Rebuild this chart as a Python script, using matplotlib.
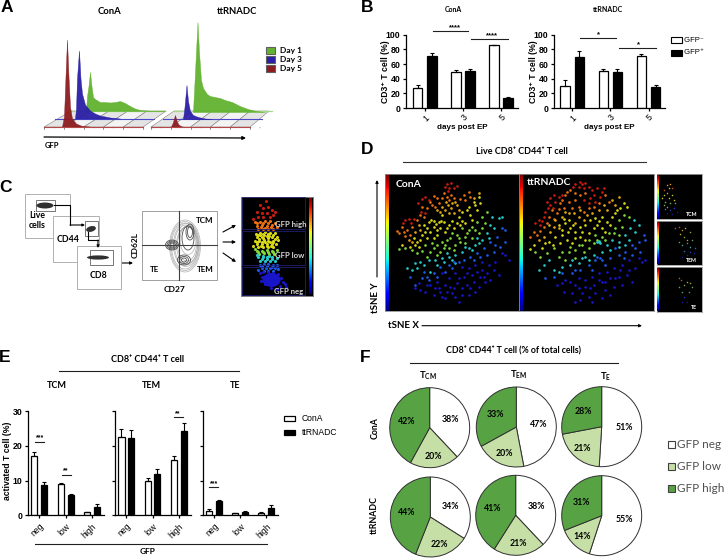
from __future__ import annotations

import matplotlib
matplotlib.use("Agg")
import matplotlib.pyplot as plt
import numpy as np
from matplotlib.patches import Ellipse, Polygon, Rectangle

W, H = 724, 559
SANS = ["Liberation Sans", "DejaVu Sans"]
CAL = ["Lato", "DejaVu Sans"]

plt.rcParams["font.family"] = SANS
plt.rcParams["mathtext.fontset"] = "custom"
plt.rcParams["mathtext.bf"] = "Lato:bold"
plt.rcParams["mathtext.rm"] = "Lato"
plt.rcParams["mathtext.default"] = "regular"

# --- panel A histograms: GFP position, counts (height)
cona_d1_gfp = [86, 87, 88.5, 90, 91.5, 93, 95, 100, 105, 110, 115, 120, 125, 130, 135, 140, 150, 165]
cona_d1_cnt = [0, 15, 25, 39, 25, 14, 12, 9, 9, 8.5, 9, 10, 8, 5, 2.5, 1, 0.3, 0]
cona_d3_gfp = [75, 76, 77, 79, 80.5, 82, 85, 90, 95, 100, 110, 120]
cona_d3_cnt = [0, 10, 40, 68, 40, 25, 14, 8, 5, 3, 1, 0]
cona_d5_gfp = [62, 64, 65.5, 67, 68.5, 70, 72, 76, 82, 90]
cona_d5_cnt = [0, 10, 50, 87, 50, 20, 8, 3, 0.5, 0]
tt_d1_gfp = [193, 194.5, 196, 197.5, 199, 201, 203, 207, 210, 215, 220, 225, 232, 240, 248, 256, 265]
tt_d1_cnt = [0, 30, 60, 90, 60, 32, 24, 18, 16, 15, 14, 12, 10, 6, 3, 1, 0]
tt_d3_gfp = [183, 184.5, 186.5, 188, 190, 193, 198, 205, 212]
tt_d3_cnt = [0, 12, 34, 18, 8, 4, 2, 0.5, 0]
tt_d5_gfp = [171, 173, 175, 177, 179, 182, 186]
tt_d5_cnt = [0, 5, 12, 5, 2, 0.5, 0]

# --- panel B
days = ["1", "3", "5"]
b_cona_neg = [28, 49, 85.5]
b_cona_pos = [71, 50.5, 14]
b_cona_neg_err = [4, 2.5, 1]
b_cona_pos_err = [4, 2.5, 1]
b_tt_neg = [30, 50.5, 71]
b_tt_pos = [70, 49.5, 28.5]
b_tt_neg_err = [8, 3.5, 3]
b_tt_pos_err = [8, 4, 3]

# --- panel E
gfp_levels = ["neg", "low", "high"]
tcm_cona = [17.2, 9, 0.8]
tcm_tt = [8.6, 5.7, 2.3]
tcm_cona_err = [1, 0.4, 0.2]
tcm_tt_err = [1.1, 0.4, 0.8]
tem_cona = [22.5, 9.8, 15.8]
tem_tt = [22.2, 12, 24.2]
tem_cona_err = [2.5, 1, 1.3]
tem_tt_err = [2.3, 1.4, 2.3]
te_cona = [1.3, 0.5, 0.6]
te_tt = [4.1, 0.9, 2.2]
te_cona_err = [0.4, 0.15, 0.2]
te_tt_err = [0.4, 0.3, 0.8]

# --- panel F: neg, low, high
pie_cona_tcm = [38, 20, 42]
pie_cona_tem = [47, 20, 33]
pie_cona_te = [51, 21, 28]
pie_tt_tcm = [34, 22, 44]
pie_tt_tem = [38, 21, 41]
pie_tt_te = [55, 14, 31]

# --- panel D dots
RED, ORANGE, AMBER, YELLOW, LIME, CYAN, BLUE, NAVY = (
    "#c81c10", "#e87010", "#e0a810", "#d8d818", "#80d838", "#28c8c8", "#1c58e8", "#1814c8")

cona_red = [(255,118),(268,115),(285,122),(262,130),(250,125),(275,130),(190,155),(180,162),(130,225),(140,222),(148,235),(155,222),(178,200),(190,205),(258,138),(200,165),(168,175),(122,235)]
cona_orange = [(268,150),(262,165),(215,152),(225,160),(205,170),(210,180),(245,145),(230,175),(240,160),(180,185),(175,210),(185,215),(120,245),(125,262),(135,255),(145,270),(110,265),(150,245),(320,140),(325,155),(305,150),(295,162),(255,155),(275,160),(195,190),(165,225),(130,272),(105,258),(220,185),(310,165)]
cona_amber = [(258,180),(268,190),(250,195),(262,205),(240,185),(275,205),(285,180),(225,195),(280,170),(170,240),(160,262),(175,255),(252,172),(270,175),(290,195),(235,200),(150,290),(140,285),(350,145),(335,160)]
cona_yellow = [(200,230),(215,228),(230,232),(245,230),(185,240),(195,250),(215,245),(205,262),(235,250),(248,262),(225,270),(240,210),(290,215),(300,200),(320,185),(335,170),(350,155),(355,175),(345,195),(325,210),(310,235),(285,235),(165,290),(175,285),(155,280),(120,300),(180,270),(170,305),(262,240),(275,250),(300,228),(208,225),(222,238),(238,228),(190,260),(225,255),(255,250),(270,228),(315,195),(340,180),(330,225),(160,300),(145,305),(195,280),(215,280),(295,240)]
cona_lime = [(110,312),(130,310),(150,315),(165,325),(190,300),(210,295),(225,300),(240,290),(255,285),(270,265),(285,270),(300,250),(315,265),(330,245),(345,230),(360,215),(375,200),(370,235),(350,265),(330,280),(310,295),(295,290),(280,300),(260,310),(235,320),(205,320),(215,310),(250,300),(265,280),(290,280),(320,255),(340,255),(275,315),(245,310),(225,330),(180,318),(360,250),(310,275),(195,335)]
cona_cyan = [(390,215),(410,220),(395,250),(375,265),(360,285),(340,300),(320,310),(300,320),(280,330),(260,335),(240,340),(220,345),(200,345),(175,350),(160,355),(150,375),(135,370),(420,215),(205,380),(280,355),(255,325),(345,280),(385,240),(225,360),(350,295),(330,315),(310,305),(270,345),(245,352),(185,360),(165,368),(380,280)]
cona_blue = [(405,275),(385,290),(365,310),(345,325),(325,335),(305,345),(420,250),(430,255),(290,350),(270,370),(250,380),(215,385),(195,395),(180,400),(160,420),(145,395),(235,365),(395,320),(375,330),(430,290),(415,305),(200,405),(275,350),(355,335),(335,345),(400,300),(260,360),(225,395),(185,380)]
cona_navy = [(440,345),(420,325),(400,350),(380,360),(360,350),(340,360),(320,370),(300,365),(280,385),(260,400),(240,385),(225,410),(205,420),(190,440),(175,435),(160,430),(215,450),(235,440),(250,460),(270,445),(290,470),(300,430),(315,420),(335,410),(355,395),(375,385),(395,375),(410,390),(340,440),(320,450),(285,415),(265,425),(350,425),(370,410),(385,405),(305,395),(330,390),(230,430),(250,420),(280,455),(240,455),(360,375),(430,330),(300,450),(315,385),(345,380),(290,400),(255,440),(220,430),(195,420),(170,415),(325,430),(365,395),(275,430)]

tt_red = [(640,118),(655,110),(670,115),(680,125),(650,125),(665,130),(575,150),(565,160),(555,172),(565,180),(580,170),(590,155),(520,235),(530,225),(545,215),(535,240),(550,200),(600,150),(690,135),(705,130),(720,140),(715,155),(700,170),(680,175),(665,165),(632,125),(660,118),(558,188),(572,190),(540,228),(695,150),(725,128),(685,160)]
tt_orange = [(625,135),(610,150),(595,175),(605,190),(570,195),(585,205),(560,215),(545,245),(515,262),(525,270),(535,258),(555,235),(620,170),(640,165),(655,150),(680,190),(665,200),(695,185),(730,150),(740,170),(650,185),(630,190),(600,165),(615,140),(590,192),(575,222),(505,275),(640,145),(670,145),(710,175)]
tt_amber = [(620,205),(635,205),(650,215),(665,225),(580,225),(600,215),(690,205),(710,195),(725,180),(750,165),(770,155),(565,260),(575,245),(545,275),(530,285),(640,235),(610,200),(655,195),(675,210),(590,250),(560,240),(735,195),(760,180)]
tt_yellow = [(590,240),(610,235),(625,250),(640,262),(655,245),(670,240),(685,225),(700,220),(720,215),(735,230),(750,215),(765,195),(785,175),(795,185),(560,290),(580,275),(600,270),(615,285),(630,295),(680,265),(705,240),(720,250),(745,240),(515,300),(505,312),(540,310),(655,275),(595,295),(605,222),(620,225),(632,240),(600,255),(618,262),(660,260),(695,250),(712,228),(760,205),(775,190),(548,295),(572,300),(640,280),(670,285),(730,260)]
tt_lime = [(770,225),(785,210),(760,250),(740,265),(720,275),(700,270),(680,285),(660,300),(640,315),(620,320),(600,320),(575,310),(555,325),(535,335),(695,295),(665,320),(770,270),(800,215),(640,340),(680,310),(610,345),(650,300),(625,305),(590,335),(705,285),(730,285),(755,265),(780,245),(520,320)]
tt_cyan = [(815,225),(830,240),(805,250),(790,270),(770,290),(750,285),(735,300),(710,290),(720,320),(695,330),(670,335),(650,355),(625,360),(600,365),(575,375),(545,360),(530,375),(560,345),(790,300),(820,260),(745,315),(710,288),(705,292),(715,295),(680,345),(660,340),(770,305),(800,285),(590,380),(630,345)]
tt_blue = [(845,270),(850,285),(830,290),(810,300),(790,320),(770,330),(745,340),(720,345),(700,345),(680,360),(655,375),(630,385),(600,385),(575,395),(550,400),(810,330),(835,320),(730,360),(760,310),(715,340),(705,335),(690,375),(640,375),(785,340),(820,310)]
tt_navy = [(840,350),(820,370),(800,345),(780,360),(755,370),(735,380),(710,385),(690,395),(670,405),(650,400),(625,410),(600,415),(585,420),(605,440),(630,445),(650,430),(670,425),(695,420),(720,410),(745,400),(770,395),(795,390),(810,410),(780,420),(755,425),(730,435),(700,445),(680,455),(655,465),(720,460),(745,450),(640,470),(850,345),(830,340),(690,470),(610,405),(775,375),(800,375),(710,405),(685,430),(660,445),(640,420),(730,410),(760,400)]

# small tSNE panels
tcm_dots = [("#e8a020", (915,120)), ("#e8a020", (925,118)), ("#d05020", (930,130)), ("#d05020", (905,135)), ("#e8c020", (920,130)),
            ("#c8c820", (905,150)), ("#c8c820", (915,145)), ("#c8c820", (930,150)), ("#c8c820", (900,160)), ("#c8c820", (920,160)), ("#c8c820", (935,165)),
            ("#70c050", (910,170)), ("#70c050", (905,180)), ("#70c050", (925,175)), ("#50b090", (915,185)), ("#50b090", (940,175)), ("#3080c0", (910,192)), ("#2040c0", (925,195)),
            ("#2040c0", (935,190)), ("#1818a0", (915,205)), ("#1818a0", (930,208)), ("#1818a0", (945,200))]
tem_dots = [("#c06020", (940,250)), ("#c06020", (950,245)), ("#d09020", (960,255)), ("#c8b020", (970,250)), ("#c8b020", (955,268)), ("#90a830", (965,275)), ("#90a830", (985,262)),
            ("#90a830", (975,285)), ("#60a860", (950,290)), ("#60a860", (990,285)), ("#40a0a0", (960,300)), ("#40a0a0", (985,305)), ("#40a0a0", (975,295)), ("#2070c0", (1000,310)),
            ("#2070c0", (965,318)), ("#2040c0", (985,320)), ("#1818a0", (975,330)), ("#1818a0", (995,325)), ("#1818a0", (960,335))]
te_dots = [("#c06020", (950,398)), ("#c06020", (958,405)), ("#d0a020", (975,410)), ("#90a830", (985,415)), ("#90a830", (965,420)), ("#60a860", (990,425)), ("#60a860", (950,425)),
           ("#40a0a0", (960,440)), ("#40a0a0", (980,440)), ("#2040c0", (965,455)), ("#1818a0", (975,470)), ("#1818a0", (960,470))]

# --- panel C GFP dot plot
gate_red = [(798,122),(780,135),(790,145),(805,140),(815,150),(770,155),(785,160),(800,158),(825,155),(775,170),(790,172),(810,170),(760,178),(820,165)]
gate_orange = [(765,185),(780,185),(795,183),(810,182),(825,188),(770,197),(785,195),(800,197),(815,195),(830,200),(775,207),(790,206),(805,208),(820,207),(772,190),(788,190),(803,190),(795,203),(782,202),(812,202)]
gate_yellow = [(768,222),(780,218),(795,217),(810,218),(825,220),(772,232),(785,230),(800,228),(815,232),(830,232),(765,242),(778,242),(792,240),(805,242),(820,242),(835,240),
               (770,252),(785,252),(800,252),(815,252),(828,252),(758,258),(790,262),(805,262),(775,262),(820,262),(780,225),(790,235),(805,235),(795,247),(810,247),(773,225),(788,223),(803,223),(818,226),(778,236),(793,225),(808,228),(825,237),(772,247),(786,246),(818,247),(800,257),(782,257),(813,257)]
gate_lime = [(770,272),(785,272),(800,270),(815,272),(830,270),(778,282),(792,280),(808,282),(822,282),(765,268),(775,277),(790,276),(805,276),(820,277)]
gate_cyan = [(775,292),(788,292),(802,290),(815,292),(830,295),(780,302),(795,302),(810,302),(825,302),(772,285),(785,297),(800,296),(815,298),(790,287),(806,287)]
gate_blue = [(780,315),(792,312),(805,312),(818,314),(830,315),(785,325),(798,325),(810,325),(825,325),(775,330),(835,328),(787,318),(800,318),(815,320),(792,332),(805,332),(820,332)]
gate_navy = [(780,340),(790,335),(805,335),(820,338),(835,342),(785,350),(845,355),(850,365),(795,372),(840,378),(855,372),(812,385),(830,388),(782,362),(860,380)]

# contour rings in the CD62L/CD27 plot: centre x, centre y, width, height
ring_cx = [185, 185, 185, 186, 186, 187, 187, 188, 188, 172, 172, 172, 172, 190, 190, 184, 184, 184]
ring_cy = [246, 246, 246, 245, 245, 245, 244, 240, 238, 245, 245, 245, 245, 232, 232, 260, 260, 260]
ring_w = [31, 29, 27, 25, 23, 21, 19, 16, 12, 13, 10, 7, 4, 8, 5, 13, 9, 5]
ring_h = [52, 49, 46, 43, 40, 37, 34, 29, 24, 10, 8, 6, 4, 16, 11, 10, 7, 4]


def px_axes(fig, x0, y0, x1, y1, **kw):
    return fig.add_axes([x0 / W, 1 - y1 / H, (x1 - x0) / W, (y1 - y0) / H], **kw)


def label(ax, x, y, s, size=6.5, family=CAL, weight="bold", ha="center", color="black", rotation=0, zorder=7):
    ax.text(x, y, s, fontsize=size, family=family, weight=weight, ha=ha, va="center", color=color, rotation=rotation, zorder=zorder)


def arrow(ax, x0, y0, x1, y1, lw=0.8, ms=5):
    ax.annotate("", xy=(x1, y1), xytext=(x0, y0),
                arrowprops=dict(arrowstyle="-|>", lw=lw, color="black", mutation_scale=ms, shrinkA=0, shrinkB=0))


def draw_hist(ax, gfp, cnt, base, color):
    y = base - np.asarray(cnt, dtype=float)
    ax.fill_between(gfp, y, base, color=color, lw=0.3, alpha=0.95, zorder=3)


def draw_floor(ax, x_bot, x_top, base_bot, base_top):
    # tilted grid under the histograms
    bw, tw = 99, 95
    for i in range(5):
        a, b = i / 5, (i + 1) / 5
        pts = [(x_bot + a * bw, base_bot), (x_bot + b * bw, base_bot), (x_top + b * tw, base_top), (x_top + a * tw, base_top)]
        ax.add_patch(Polygon(pts, closed=True, fc="#e4e4e4" if i % 2 == 0 else "#f4f4f4", ec="#808080", lw=0.4, zorder=1))
    for i in range(6):
        x = x_bot + i * bw / 5
        ax.plot([x, x], [base_bot, base_bot + 2], color="#303030", lw=0.4, zorder=4)
        ax.plot([x + bw / 10, x + bw / 10], [base_bot, base_bot + 1.2], color="#303030", lw=0.3, zorder=4)


def bar_pair(ax, neg, pos, neg_err, pos_err, off, width):
    x = np.arange(len(neg))
    for dx, vals, errs, col in ((-off, neg, neg_err, "white"), (off, pos, pos_err, "black")):
        ax.bar(x + dx, vals, width, color=col, edgecolor="black", lw=0.9, zorder=2,
               yerr=[np.zeros(len(errs)), errs], error_kw=dict(ecolor="black", elinewidth=0.8, capsize=1.6, capthick=0.8))
    for s in ("top", "right"):
        ax.spines[s].set_visible(False)
    for s in ("left", "bottom"):
        ax.spines[s].set_linewidth(0.9)
    ax.set_xticks(x)


def draw_pie(ax, vals):
    wedges, _ = ax.pie(vals, colors=["white", PIE_LOW, PIE_HIGH], startangle=90, counterclock=False, radius=1.0,
                       wedgeprops=dict(edgecolor="#303030", lw=0.7))
    for w, v, d in zip(wedges, vals, (0.57, 0.72, 0.6)):
        ang = np.deg2rad((w.theta1 + w.theta2) / 2)
        ax.text(d * np.cos(ang), d * np.sin(ang), f"{v}%", fontsize=6.3, family=CAL, weight="bold", ha="center", va="center")
    ax.set_xlim(-1.03, 1.03)
    ax.set_ylim(-1.03, 1.03)


def draw_dots(ax, groups, s):
    for col, pts in groups:
        xs, ys = zip(*pts)
        ax.scatter(xs, ys, s=s, c=col, linewidths=0, zorder=3)


def color_strip(ax):
    grad = np.linspace(1, 0, 128).reshape(-1, 1)
    ax.imshow(grad, cmap="jet", aspect="auto")
    ax.axis("off")


PIE_LOW = "#c6dfa6"
PIE_HIGH = "#57a344"

fig = plt.figure(figsize=(W / 100, H / 100), dpi=100, facecolor="white")
ov = px_axes(fig, 0, 0, W, H)
ov.set_xlim(0, W)
ov.set_ylim(H, 0)
ov.axis("off")
ov.set_zorder(10)

# panel letters
for s, x, y in (("A", 7, 8), ("B", 367, 8), ("C", 6, 187), ("D", 367, 150), ("E", 5, 358), ("F", 365, 357)):
    label(ov, x, y, s, size=12.5, family=SANS)

# ---------- A
label(ov, 109, 12, "ConA", size=6.8)
label(ov, 237, 12, "ttRNADC", size=6.8)
draw_floor(ov, 44, 71, 127, 111)
draw_floor(ov, 151, 174, 127, 111)
for x0, x1 in ((70, 165), (174, 272)):
    ov.plot([x0, x1], [111, 111], color="#a8d88a", lw=0.9, zorder=2)
for x0, x1 in ((55, 154), (163, 262)):
    ov.plot([x0, x1], [118.5, 118.5], color="#4a48c8", lw=0.8, zorder=2)
for x0, x1 in ((44, 143), (151, 250)):
    ov.plot([x0, x1], [126.8, 126.8], color="#b84848", lw=0.8, zorder=4)
draw_hist(ov, cona_d1_gfp, cona_d1_cnt, 111, "#62b22f")
draw_hist(ov, cona_d3_gfp, cona_d3_cnt, 118.5, "#2a1fa6")
draw_hist(ov, cona_d5_gfp, cona_d5_cnt, 126.5, "#8c1c1f")
draw_hist(ov, tt_d1_gfp, tt_d1_cnt, 112, "#62b22f")
draw_hist(ov, tt_d3_gfp, tt_d3_cnt, 119, "#2a1fa6")
draw_hist(ov, tt_d5_gfp, tt_d5_cnt, 127, "#8c1c1f")
arrow(ov, 44, 137, 246, 138, lw=0.9)
label(ov, 52, 146, "GFP", size=5.5)
for y, col, s in ((50, "#62b22f", "Day 1"), (59.5, "#2a1fa6", "Day 3"), (68.5, "#8c1c1f", "Day 5")):
    ov.add_patch(Rectangle((265.5, y - 3.5), 9, 7, fc=col, ec="#606060", lw=0.8))
    label(ov, 280, y, s, size=6, ha="left")

# ---------- B
ax = px_axes(fig, 406, 34.7, 518, 108.2)
bar_pair(ax, b_cona_neg, b_cona_pos, b_cona_neg_err, b_cona_pos_err, 0.186, 0.25)
ax.set_xlim(-0.49, 2.445)
ax2 = px_axes(fig, 554, 34.7, 665, 108.2)
bar_pair(ax2, b_tt_neg, b_tt_pos, b_tt_neg_err, b_tt_pos_err, 0.186, 0.25)
ax2.set_xlim(-0.48, 2.433)
for a in (ax, ax2):
    a.set_ylim(0, 100)
    a.set_yticks([0, 20, 40, 60, 80, 100])
    a.set_xticklabels(days, rotation=45, ha="right", rotation_mode="anchor")
    a.tick_params(axis="y", labelsize=6.3, length=2.5, width=0.9, pad=1.5)
    a.tick_params(axis="x", labelsize=6.3, length=2.5, width=0.9, pad=1)
    for t in a.get_yticklabels():
        t.set_fontweight("bold")
    a.set_xlabel("days post EP", fontsize=5.8, weight="bold", labelpad=1)
    a.set_ylabel("CD3⁺ T cell (%)", fontsize=6.2, weight="bold")
    a.yaxis.set_label_coords(-0.145, 0.5)
label(ov, 453, 9, "ConA", size=5)
label(ov, 608, 9, "ttRNADC", size=5)
for x0, x1, y, sx, stars in ((433, 468, 30.5, 455, "****"), (471, 508, 39, 492, "****"), (580, 616, 38, 598, "*"), (619, 656, 47.5, 638, "*")):
    ov.plot([x0, x1], [y, y], color="#202020", lw=0.8)
    label(ov, sx, y - 3, stars, size=5.5, family=SANS)
ov.add_patch(Rectangle((671, 37), 11, 6, fc="white", ec="black", lw=0.8))
ov.add_patch(Rectangle((671, 50), 11, 6, fc="black", ec="black", lw=0.8))
label(ov, 682, 40.5, " GFP⁻", size=5.5, family=SANS, weight="normal", ha="left")
label(ov, 682, 53, " GFP⁺", size=5.5, family=SANS, weight="normal", ha="left")

# ---------- C
for x0, y0, x1, y1, z in ((25, 194, 69.5, 238, 2), (53, 216, 98.5, 262, 3), (77, 246, 120.5, 289, 4)):
    ov.add_patch(Rectangle((x0, y0), x1 - x0, y1 - y0, fc="white", ec="#b0b0b0", lw=0.7, zorder=z))
ov.add_patch(Rectangle((36, 200), 19, 11, fc="none", ec="#606060", lw=0.6, zorder=5))
ov.add_patch(Rectangle((85, 221), 13, 15, fc="none", ec="#606060", lw=0.6, zorder=5))
ov.add_patch(Rectangle((90, 250), 23, 15, fc="none", ec="#606060", lw=0.6, zorder=5))
ov.add_patch(Ellipse((45, 205.5), 17, 6, fc="#303030", ec="none", zorder=5))
ov.add_patch(Ellipse((91, 229), 10, 5.5, angle=-15, fc="#303030", ec="none", zorder=5))
ov.add_patch(Ellipse((98, 257.5), 22, 4.2, fc="#303030", ec="none", zorder=5))
label(ov, 37, 215, "Live", size=6.3)
label(ov, 37, 225, "cells", size=6.3)
label(ov, 68, 239.5, "CD44", size=6.3)
label(ov, 99, 275, "CD8", size=6.3)
for pts in (((54, 205), (70, 205), (70, 225), (85, 225)), ((88, 232), (88, 240), (98, 240), (98, 248))):
    xs, ys = zip(*pts)
    ov.plot(xs[:-1], ys[:-1], color="black", lw=0.8, zorder=6)
    ov.annotate("", xy=pts[-1], xytext=pts[-2], zorder=6,
                arrowprops=dict(arrowstyle="-|>", lw=0.8, color="black", mutation_scale=3.5, shrinkA=0, shrinkB=0))
arrow(ov, 114, 263, 133, 263, ms=4)

ov.add_patch(Rectangle((142, 210.5), 75, 69, fc="white", ec="#a0a0a0", lw=0.7))
for cx, cy, w, h in zip(ring_cx, ring_cy, ring_w, ring_h):
    dark = w < 14
    ov.add_patch(Ellipse((cx, cy), w, h, fc="none", ec="#505050" if dark else "#a8a8a8", lw=0.6 if dark else 0.45))
ov.plot([178.7, 178.7], [210.5, 279.5], color="#404040", lw=0.8)
ov.plot([142, 217], [245, 245], color="#404040", lw=0.8)
label(ov, 205, 220.5, "TCM", size=5.8)
label(ov, 205, 270, "TEM", size=5.8)
label(ov, 154, 270, "TE", size=5.8)
label(ov, 135, 245, "CD62L", size=6, rotation=90)
label(ov, 175, 290, "CD27", size=6)
arrow(ov, 223, 232, 236, 225, ms=4.5)
arrow(ov, 223, 242, 236, 242, ms=4.5)
arrow(ov, 223, 253, 236, 262, ms=4.5)

heat = px_axes(fig, 240.7, 196.7, 313, 296)
heat.set_facecolor("black")
heat.set_xlim(722, 940)
heat.set_ylim(408, 110)
heat.set_xticks([])
heat.set_yticks([])
for s in heat.spines.values():
    s.set_color("#808080")
    s.set_linewidth(0.7)
heat.add_patch(Ellipse((815, 360), 55, 42, fc=NAVY, ec="none", zorder=2))
draw_dots(heat, ((RED, gate_red), (ORANGE, gate_orange), (YELLOW, gate_yellow), (LIME, gate_lime), (CYAN, gate_cyan), (BLUE, gate_blue), (NAVY, gate_navy)), 5)
for y0, y1 in ((110, 208), (214, 315), (322, 406)):
    heat.add_patch(Rectangle((726, y0), 191, y1 - y0, fc="none", ec="#202070", lw=0.6, zorder=4))
for x, y, s in ((873, 192, "GFP high"), (870, 285, "GFP low"), (868, 393, "GFP neg")):
    heat.text(x, y, s, fontsize=5.6, family=CAL, weight="bold", color="#d8d8d8", ha="center", va="center", zorder=5)
color_strip(px_axes(fig, 309, 198, 312, 294))

# ---------- D
label(ov, 522, 151, "Live CD8⁺ CD44⁺ T cell", size=6.5)
ov.plot([403, 646], [162.3, 162.3], color="#303030", lw=0.8)
tsne_a = px_axes(fig, 385.3, 174, 519, 311)
tsne_b = px_axes(fig, 519, 174, 653.7, 311)
tsne_a.set_xlim(70, 471)
tsne_b.set_xlim(471, 875)
for a in (tsne_a, tsne_b):
    a.set_ylim(498, 87)
    a.set_facecolor("black")
    a.set_xticks([])
    a.set_yticks([])
    for s in a.spines.values():
        s.set_color("#909090")
        s.set_linewidth(0.6)
draw_dots(tsne_a, ((RED, cona_red), (ORANGE, cona_orange), (AMBER, cona_amber), (YELLOW, cona_yellow), (LIME, cona_lime), (CYAN, cona_cyan), (BLUE, cona_blue), (NAVY, cona_navy)), 3.6)
draw_dots(tsne_b, ((RED, tt_red), (ORANGE, tt_orange), (AMBER, tt_amber), (YELLOW, tt_yellow), (LIME, tt_lime), (CYAN, tt_cyan), (BLUE, tt_blue), (NAVY, tt_navy)), 3.6)
tsne_a.text(100, 118, "ConA", color="white", fontsize=7.5, family=CAL, weight="bold", va="center")
tsne_b.text(494, 113, "ttRNADC", color="white", fontsize=7.5, family=CAL, weight="bold", va="center")
color_strip(px_axes(fig, 386, 174.5, 389, 310.5))
color_strip(px_axes(fig, 520, 174.5, 522.5, 310.5))

mini_boxes = ((174.3, 219, 88, 222, tcm_dots, "TCM", 989, 210), (221, 265, 228, 360, tem_dots, "TEM", 988, 348), (267.3, 311.7, 367, 500, te_dots, "TE", 996, 488))
for y0, y1, zy0, zy1, dots, name, tx, ty in mini_boxes:
    m = px_axes(fig, 657, y0, 701.7, y1)
    m.set_facecolor("black")
    m.set_xlim(885, 1019)
    m.set_ylim(zy1, zy0)
    m.set_xticks([])
    m.set_yticks([])
    for s in m.spines.values():
        s.set_color("#a0a0a0")
        s.set_linewidth(0.6)
    for col, pt in dots:
        m.scatter(pt[0], pt[1], s=1.2, c=col, linewidths=0)
    m.text(tx, ty, name, color="white", fontsize=3.8, family=CAL, weight="bold", ha="center", va="center")
    color_strip(px_axes(fig, 657.3, y0 + 0.5, 658.5, y1 - 0.5))

arrow(ov, 377, 277, 377, 180, lw=0.8, ms=4)
label(ov, 376, 298, "tSNE Y", size=7, rotation=90)
label(ov, 403, 326, "tSNE X", size=7)
arrow(ov, 422, 325.7, 642, 325.7, lw=0.8, ms=4)

# ---------- E
label(ov, 148, 359, "CD8⁺ CD44⁺ T cell", size=6.5)
ov.plot([58.5, 239], [371, 371], color="#202020", lw=0.8)
label(ov, 57, 386, "TCM", size=6.5)
label(ov, 151, 386, "TEM", size=6.5)
label(ov, 235, 386, "TE", size=6.5)
e_specs = (
    (28, 104, -0.43, 2.456, tcm_cona, tcm_tt, tcm_cona_err, tcm_tt_err),
    (114.7, 190.7, -0.446, 2.459, tem_cona, tem_tt, tem_cona_err, tem_tt_err),
    (203, 278.3, -0.42, 2.459, te_cona, te_tt, te_cona_err, te_tt_err),
)
for i, (x0, x1, lo, hi, a_vals, b_vals, a_err, b_err) in enumerate(e_specs):
    e = px_axes(fig, x0, 411.3, x1, 515.2)
    bar_pair(e, a_vals, b_vals, a_err, b_err, 0.187, 0.234)
    e.set_xlim(lo, hi)
    e.set_ylim(0, 30)
    e.set_yticks([0, 10, 20, 30])
    e.set_xticklabels(gfp_levels, rotation=45, ha="right", rotation_mode="anchor")
    e.tick_params(axis="x", labelsize=6.2, length=2.5, width=0.9, pad=2)
    e.tick_params(axis="y", labelsize=6.3, length=2.5, width=0.9, pad=1.5, labelleft=(i == 0))
    for t in e.get_yticklabels():
        t.set_fontweight("bold")
    if i == 0:
        e.set_ylabel("activated T cell (%)", fontsize=6.2, weight="bold")
        e.yaxis.set_label_coords(-0.215, 0.52)
for x0, x1, y, stars in ((35.3, 44, 442, "***"), (61.7, 70.7, 475, "**"), (173.7, 182.7, 417.3, "**"), (209.3, 218, 487.3, "***")):
    ov.plot([x0, x1], [y, y], color="#202020", lw=0.8)
    label(ov, (x0 + x1) / 2, y - 4, stars, size=5, family=SANS)
ov.plot([34.7, 267], [544.3, 544.3], color="#202020", lw=0.8)
label(ov, 148, 552, "GFP", size=6)
ov.add_patch(Rectangle((283.5, 416), 11, 4.5, fc="white", ec="black", lw=0.9))
ov.add_patch(Rectangle((283.5, 430), 11, 4.5, fc="black", ec="black", lw=0.9))
label(ov, 302, 418.5, "ConA", size=6.2, family=SANS, weight="normal", ha="left")
label(ov, 302, 432.5, "ttRNADC", size=6.2, family=SANS, weight="normal", ha="left")

# ---------- F
label(ov, 513, 350.5, "CD8⁺ CD44⁺ T cell (% of total cells)", size=6.3)
ov.plot([410, 618], [363.3, 363.3], color="#202020", lw=0.8)
label(ov, 427.7, 376, r"$\mathbf{T_{CM}}$", size=6.8)
label(ov, 518.7, 375, r"$\mathbf{T_{EM}}$", size=6.8)
label(ov, 605.7, 376.7, r"$\mathbf{T_{E}}$", size=6.8)
label(ov, 374.7, 427.7, "ConA", size=6.3, rotation=90)
label(ov, 374.7, 515, "ttRNADC", size=6.3, rotation=90)
pie_specs = ((429.7, 427.7, pie_cona_tcm), (516.3, 427, pie_cona_tem), (601.7, 426.7, pie_cona_te),
             (430.3, 517, pie_tt_tcm), (515.7, 515.3, pie_tt_tem), (601.7, 515.7, pie_tt_te))
for cx, cy, vals in pie_specs:
    pa = px_axes(fig, cx - 41.2, cy - 41.2, cx + 41.2, cy + 41.2)
    draw_pie(pa, vals)
for y, col, s in ((444, "white", "GFP neg"), (466, PIE_LOW, "GFP low"), (488, PIE_HIGH, "GFP high")):
    ov.add_patch(Rectangle((667.5, y - 3.5), 7, 7, fc=col, ec="#404040", lw=0.8))
    label(ov, 677, y, s, size=8.5, family=CAL, weight="normal", ha="left", color="#505050")

fig.savefig("out.png", dpi=100)
